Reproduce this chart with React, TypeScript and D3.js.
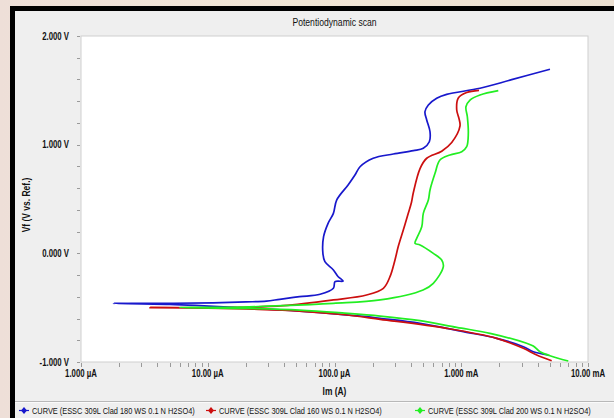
import React, { useEffect, useRef } from "react";
import * as d3 from "d3";

// current in µA, potential in V; each scan runs cathodic end -> Ecorr -> anodic end
const blueCathodic = [
  [4860, -0.935], [3700, -0.905], [3090, -0.859], [1905, -0.782], [1038, -0.721],
  [473, -0.644], [229, -0.598], [179, -0.583], [53, -0.531], [18, -0.5], [5, -0.47], [1.8, -0.46],
];
const blueAnodic = [
  [4.7, -0.46], [11, -0.455], [20, -0.447], [29, -0.44], [37, -0.423], [53, -0.399],
  [77, -0.377], [98, -0.322], [101, -0.261], [117, -0.255], [107, -0.215], [98, -0.153],
  [84, -0.077], [81, 0.0], [82, 0.153], [89, 0.276], [98, 0.368], [104, 0.49], [128, 0.629],
  [145, 0.721], [159, 0.797], [202, 0.875], [291, 0.914], [419, 0.945], [502, 0.967],
  [560, 1.027], [567, 1.119], [534, 1.227], [517, 1.303], [550, 1.365], [640, 1.427],
  [767, 1.463], [1406, 1.519], [2500, 1.598], [5012, 1.694],
];

const redCathodic = [
  [5170, -0.988], [3940, -0.935], [3090, -0.874], [1905, -0.782], [767, -0.69],
  [229, -0.607], [120, -0.565], [53, -0.531], [25, -0.515], [10, -0.505], [3.5, -0.5],
];
const redAnodic = [
  [15.8, -0.5], [39.4, -0.482], [98, -0.429], [179, -0.383], [243, -0.322], [274, -0.215],
  [300, -0.061], [318, 0.061], [349, 0.215], [382, 0.368], [405, 0.47], [419, 0.56],
  [473, 0.78], [534, 0.875], [701, 0.94], [841, 1.02], [977, 1.17], [960, 1.24],
  [921, 1.319], [948, 1.43], [1104, 1.48], [1380, 1.5],
];

const greenCathodic = [
  [6990, -0.991], [5010, -0.942], [4180, -0.905], [3700, -0.853], [3280, -0.828],
  [1687, -0.736], [921, -0.681], [473, -0.62], [229, -0.577], [120, -0.55], [53, -0.522],
  [20, -0.507], [6, -0.498],
];
const greenAnodic = [
  [15, -0.497], [39.4, -0.482], [98, -0.46], [229, -0.429], [500, -0.337], [602, -0.276],
  [722, -0.123], [701, -0.061], [602, 0.0], [473, 0.077], [432, 0.092], [445, 0.138],
  [488, 0.245], [502, 0.368], [550, 0.491], [567, 0.583], [621, 0.736], [679, 0.859],
  [815, 0.905], [1009, 0.935], [1104, 0.981], [1137, 1.104], [1117, 1.257], [1089, 1.349],
  [1172, 1.411], [1406, 1.457], [1960, 1.497],
];

const xTickValues = [1, 10, 100, 1000, 10000];
const xTickLabels = ["1.000 µA", "10.00 µA", "100.0 µA", "1.000 mA", "10.00 mA"];
const yTickValues = [-1, 0, 1, 2];
const yTickLabels = ["-1.000 V", "0.000 V", "1.000 V", "2.000 V"];

const series = [
  { name: "CURVE (ESSC 309L Clad 180 WS 0.1 N H2SO4)", color: "#1818cc", data: blueCathodic.concat(blueAnodic) },
  { name: "CURVE (ESSC 309L Clad 160 WS 0.1 N H2SO4)", color: "#cc0f0f", data: redCathodic.concat(redAnodic) },
  { name: "CURVE (ESSC 309L Clad 200 WS 0.1 N H2SO4)", color: "#22ee22", data: greenCathodic.concat(greenAnodic) },
];

const FONT = "'Liberation Sans', Arial, sans-serif";

// narrow text: the original uses a condensed face, so squeeze horizontally
const narrowText = (parent, x, y, str, opts = {}) => {
  const g = parent.append("g").attr("transform", `translate(${x},${y}) scale(${opts.sx || 0.82},1)`);
  return g.append("text")
    .attr("text-anchor", opts.anchor || "start")
    .style("font-family", FONT)
    .style("font-size", (opts.size || 10) + "px")
    .style("font-weight", opts.weight || "normal")
    .style("fill", "#111")
    .text(str);
};

const App = () => {
  const svgRef = useRef(null);

  useEffect(() => {
    const W = 614;
    const H = 418;
    const left = 81, right = 588, top = 36, bottom = 362;

    const svg = d3.select(svgRef.current);
    svg.selectAll("*").remove();

    // outer backdrop + framed panel
    const defs = svg.append("defs");
    const grad = defs.append("linearGradient").attr("id", "bg").attr("x1", 0).attr("x2", 1);
    grad.append("stop").attr("offset", "0%").attr("stop-color", "#eedfd8");
    grad.append("stop").attr("offset", "50%").attr("stop-color", "#f1e6d6");
    grad.append("stop").attr("offset", "100%").attr("stop-color", "#ece0d2");
    svg.append("rect").attr("width", W).attr("height", H).attr("fill", "url(#bg)");
    svg.append("rect").attr("x", 10).attr("y", 6).attr("width", W).attr("height", H)
      .attr("fill", "#000");
    svg.append("rect").attr("x", 15).attr("y", 11).attr("width", W).attr("height", H)
      .attr("fill", "#efefef");

    // legend strip
    svg.append("line").attr("x1", 15).attr("x2", W).attr("y1", 401.5).attr("y2", 401.5)
      .attr("stroke", "#b8b8b8");
    svg.append("line").attr("x1", 15).attr("x2", W).attr("y1", 402.5).attr("y2", 402.5)
      .attr("stroke", "#fafafa");

    const x = d3.scaleLog().domain([1, 10000]).range([left, right]);
    const y = d3.scaleLinear().domain([-1, 2]).range([bottom, top]);

    svg.append("rect")
      .attr("x", left).attr("y", top)
      .attr("width", right - left).attr("height", bottom - top)
      .attr("fill", "#fff").attr("stroke", "#cfcfcf");

    // title
    narrowText(svg, (left + right) / 2, 26, "Potentiodynamic scan", { anchor: "middle", size: 10.5 });

    // y ticks
    const yMinor = d3.range(-1, 2.0001, 0.2);
    svg.append("g").selectAll("line").data(yMinor).enter().append("line")
      .attr("x1", left - 4).attr("x2", left - 1)
      .attr("y1", (d) => Math.round(y(d)) + 0.5).attr("y2", (d) => Math.round(y(d)) + 0.5)
      .attr("stroke", "#9a9a9a");
    yTickValues.forEach((v, i) => {
      narrowText(svg, 69, y(v) + 3.5, yTickLabels[i], { anchor: "end", weight: "bold", sx: 0.78 });
    });

    // x ticks (log minor)
    const xMinor = [];
    [1, 10, 100, 1000].forEach((dec) => {
      for (let k = 2; k <= 9; k++) xMinor.push(dec * k);
    });
    svg.append("g").selectAll("line").data(xMinor.concat(xTickValues)).enter().append("line")
      .attr("x1", (d) => Math.round(x(d)) + 0.5).attr("x2", (d) => Math.round(x(d)) + 0.5)
      .attr("y1", bottom + 1).attr("y2", bottom + 5)
      .attr("stroke", "#9a9a9a");
    xTickValues.forEach((v, i) => {
      narrowText(svg, x(v), 377, xTickLabels[i], { anchor: "middle", weight: "bold", sx: 0.78 });
    });

    // axis titles
    narrowText(svg, (left + right) / 2, 395, "Im (A)", { anchor: "middle", size: 10.5, weight: "bold", sx: 0.8 });
    svg.append("g").attr("transform", "translate(30,205) rotate(-90) scale(0.85,1)")
      .append("text")
      .attr("text-anchor", "middle")
      .style("font-family", FONT).style("font-size", "10px").style("font-weight", "bold")
      .style("fill", "#111")
      .text("Vf (V vs. Ref.)");

    // curves
    const line = d3.line()
      .x((d) => x(d[0]))
      .y((d) => y(d[1]))
      .curve(d3.curveCatmullRom.alpha(0.5));

    const plot = svg.append("g");
    plot.append("clipPath").attr("id", "clip").append("rect")
      .attr("x", left).attr("y", top).attr("width", right - left).attr("height", bottom - top);
    plot.selectAll("path").data(series).enter().append("path")
      .attr("d", (d) => line(d.data))
      .attr("fill", "none")
      .attr("stroke", (d) => d.color)
      .attr("stroke-width", 1.7)
      .attr("stroke-linejoin", "round")
      .attr("clip-path", "url(#clip)");

    // legend
    const legendX = [19, 206, 415];
    series.forEach((s, i) => {
      const g = svg.append("g").attr("transform", `translate(${legendX[i]},410)`);
      g.append("line").attr("x1", 0).attr("x2", 10).attr("y1", 0.5).attr("y2", 0.5)
        .attr("stroke", s.color).attr("stroke-width", 1.2);
      g.append("path").attr("d", "M5,-3 L8,0.5 L5,4 L2,0.5 Z").attr("fill", s.color);
      narrowText(g, 13, 4, s.name, { size: 9.5, sx: 0.78 });
    });
  }, []);

  return (
    <svg
      ref={svgRef}
      width={614}
      height={418}
      style={{ position: "absolute", left: 0, top: 0 }}
    ></svg>
  );
};

export default App;
